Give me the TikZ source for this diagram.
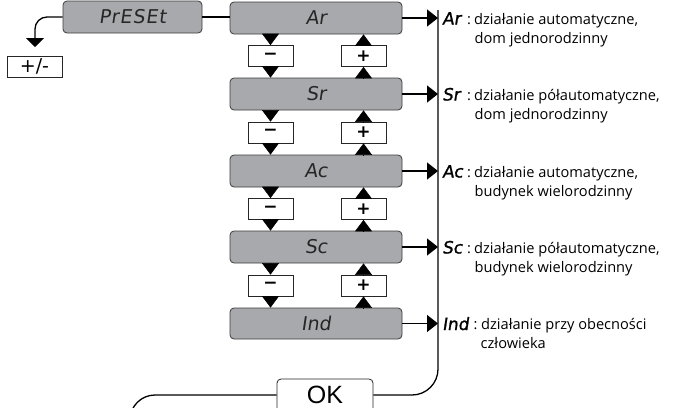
\documentclass[tikz,border=0pt]{standalone}
\usepackage{fontspec}
\setmainfont{Open Sans}
\newfontfamily\segfont[FakeSlant=0.15]{DejaVu Sans}
\newfontfamily\codefont[FakeSlant=0.15,FakeBold=1.2]{DejaVu Sans}
\newfontfamily\keyfont{DejaVu Sans}
\newfontfamily\okfont{Liberation Sans}
\usetikzlibrary{arrows.meta}
\definecolor{dispgray}{RGB}{168,169,172}
\definecolor{framegray}{RGB}{60,60,60}
\tikzset{
  disp/.style={draw=framegray, fill=dispgray, rounded corners=4pt, line width=0.8pt,
    minimum width=172pt, minimum height=32pt, inner sep=0pt,
    font=\segfont\fontsize{19}{19}\selectfont, text=black!85},
  keybox/.style={draw=black!85, fill=white, line width=0.8pt,
    minimum width=45pt, minimum height=21pt, inner sep=0pt,
    font=\keyfont\bfseries\fontsize{17}{17}\selectfont},
  conn/.style={line width=1.3pt, draw=black},
  tri/.style={line width=0.5pt, -{Triangle[length=11.5pt,width=17pt]}},
  rtri/.style={conn, -{Triangle[length=11pt,width=17pt]}},
  code/.style={anchor=base west, inner sep=0pt, font=\codefont\fontsize{17}{17}\selectfont},
  desc/.style={anchor=base west, inner sep=0pt, font=\fontsize{14.6}{14.6}\selectfont},
}
\begin{document}
\begin{tikzpicture}[x=1pt,y=-1pt]
\useasboundingbox (0,0) rectangle (674,407);
\clip (0,0) rectangle (674,407);

% display boxes
\node[disp, minimum width=139pt] (pre) at (132.5,17) {\addfontfeature{LetterSpace=5}PrESEt};
\node[disp] (ar) at (316,18) {Ar};
\node[disp] (sr) at (316,94) {Sr};
\node[disp] (ac) at (316,171) {Ac};
\node[disp] (sc) at (316,247) {Sc};
\node[disp, minimum height=31pt] (ind) at (316,323.5) {Ind};

% minus / plus keys
\foreach \n/\y in {1/56,2/132.5,3/209,4/285.5}{
  \node[keybox] (m\n) at (270.5,\y) {−};
  \node[keybox] (p\n) at (363.5,\y) {+};
}
% triangles
\foreach \a/\n/\b in {ar/1/sr,sr/2/ac,ac/3/sc,sc/4/ind}{
  \draw[tri] (\a.south -| m\n.north) -- (m\n.north);
  \draw[tri] (m\n.south) -- (\b.north -| m\n.south);
  \draw[tri] (\b.north -| p\n.south) -- (p\n.south);
  \draw[tri] (p\n.north) -- (\a.south -| p\n.north);
}

% +/- box and arrow
\node[draw=black!85, line width=0.8pt, minimum width=55pt, minimum height=21pt, inner sep=0pt,
  font=\keyfont\fontsize{19}{19}\selectfont] (pm) at (34.5,66.5) {+/-};
\coordinate (pmtip) at (35,47);
\draw[conn, rounded corners=12pt, -{Triangle[length=9pt,width=18pt]}] (pre.west) -- (pre.west -| pmtip) -- (pmtip);
\draw[conn] (pre.east) -- (pre.east -| ar.west);

% right vertical line
\coordinate (vtop) at (438,10);
\foreach \b in {ar,sr,ac,sc,ind}{
  \draw[rtri] (\b.east) -- (\b.east -| vtop);
}
% OK box
\node[draw=black!85, fill=white, line width=0.8pt, rounded corners=4pt, minimum width=96pt, minimum height=36pt,
  inner sep=0pt] (okbox) at (325,397) {};
\node[inner sep=0pt, anchor=base, font=\okfont\fontsize{25}{25}\selectfont] (ok) at (325,403) {OK};
\coordinate (okl) at (325,395);
\draw[conn, rounded corners=26pt] (vtop) |- (okbox.east |- okl);
\coordinate (lend) at (130,440);
\draw[conn, rounded corners=25pt] (okbox.west |- okl) -| (lend);

% descriptions
\foreach \c/\t/\l/\y in {Ar/automatyczne/dom jednorodzinny/24, Sr/półautomatyczne/dom jednorodzinny/100,
  Ac/automatyczne/budynek wielorodzinny/177, Sc/półautomatyczne/budynek wielorodzinny/253}{
  \node[code] (c\c) at (442,\y+0.5) {\c};
  \node[desc] (k\c) at (467,\y) {:};
  \node[desc] (d\c) at (474,\y) {działanie \t,};
  \node[desc] (e\c) at (474.5,\y+19) {\l};
}
\node[code] (cInd) at (442,330) {Ind};
\node[desc] (kInd) at (473.5,329.5) {:};
\node[desc] (dInd) at (481,329.5) {działanie przy obecności};
\node[desc] (eInd) at (480.5,348.5) {człowieka};
\end{tikzpicture}
\end{document}
